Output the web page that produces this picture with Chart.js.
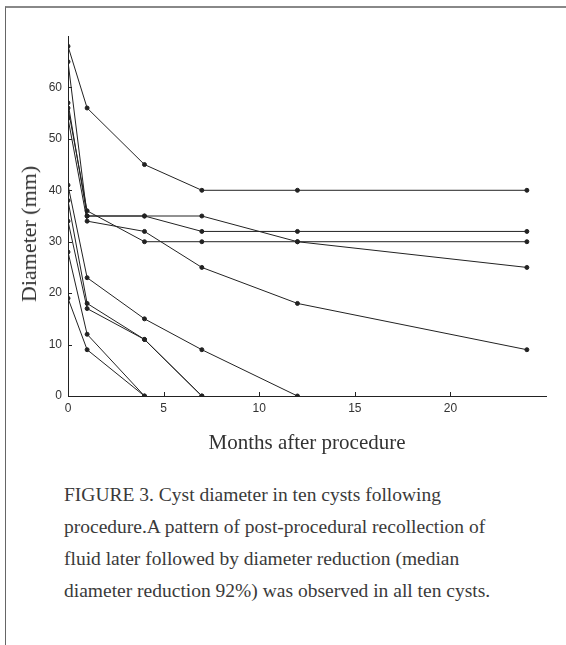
<!DOCTYPE html>
<html lang="en">
<head>
    <meta charset="UTF-8">
    <title>Cyst diameter</title>
    <style>
        body { margin: 0; background: #fff; }
        #frame {
            position: absolute; left: 5px; top: 6px; width: 561px; height: 639px;
            border-top: 2px solid #888; border-left: 1px solid #666;
        }
        #wrap { position: absolute; left: 0; top: 0; width: 566px; height: 460px; }
        #ytitle {
            position: absolute; left: 29px; top: 234px; white-space: nowrap;
            transform: translate(-50%, -50%) rotate(-90deg);
            font-family: "Liberation Serif", serif; font-size: 22px; color: #333;
        }
        #caption {
            position: absolute; left: 64px; top: 479px; white-space: nowrap;
            font-family: "Liberation Serif", serif; font-size: 19.5px; line-height: 32px;
            color: #3a3a3a;
        }
    </style>
</head>
<body>
<div id="frame"></div>
<div id="wrap">
    <canvas id="myChart"></canvas>
</div>
<div id="ytitle">Diameter (mm)</div>
<div id="caption">FIGURE 3. Cyst diameter in ten cysts following<br>procedure.A pattern of post-procedural recollection of<br>fluid later followed by diameter reduction (median<br>diameter reduction 92%) was observed in all ten cysts.</div>

<script src="https://cdn.jsdelivr.net/npm/chart.js"></script>

<script>
    // months after procedure for each measurement
    const months = [0, 1, 4, 7, 12, 24];

    // diameter (mm) of each cyst at those months
    const cyst1 = [68, 56, 45, 40, 40, 40];
    const cyst2 = [65, 35, 35, 35, 30, 25];
    const cyst3 = [57, 35, 35, 32, 32, 32];
    const cyst4 = [54, 34, 32, 25, 18, 9];
    const cyst5 = [56, 36, 30, 30, 30, 30];
    const cyst6 = [41, 23, 15, 9, 0];
    const cyst7 = [38, 18, 11, 0];
    const cyst8 = [34, 17, 11, 0];
    const cyst9 = [28, 12, 0];
    const cyst10 = [19, 9, 0];

    const yTicks = [0, 10, 20, 30, 40, 50, 60];
    const xTicks = [0, 5, 10, 15, 20];

    const allCysts = [cyst1, cyst2, cyst3, cyst4, cyst5, cyst6, cyst7, cyst8, cyst9, cyst10];

    const datasets = allCysts.map(function (values, i) {
        return {
            label: 'Cyst ' + (i + 1),
            data: values.map(function (v, j) { return {x: months[j], y: v}; }),
            borderColor: '#222',
            backgroundColor: '#222',
            borderWidth: 1,
            pointRadius: 2,
            pointHoverRadius: 2,
            tension: 0
        };
    });

    // small tick marks pointing into the plot, like the original figure
    const innerTicks = {
        id: 'innerTicks',
        afterDraw: function (chart) {
            const c = chart.ctx;
            const xs = chart.scales.x;
            const ys = chart.scales.y;
            c.save();
            c.strokeStyle = '#222';
            c.lineWidth = 1;
            c.beginPath();
            xTicks.forEach(function (t) {
                const px = Math.round(xs.getPixelForValue(t)) + 0.5;
                c.moveTo(px, ys.bottom);
                c.lineTo(px, ys.bottom - 4);
            });
            yTicks.forEach(function (t) {
                const py = Math.round(ys.getPixelForValue(t)) + 0.5;
                c.moveTo(xs.left, py);
                c.lineTo(xs.left + 4, py);
            });
            c.stroke();
            c.restore();
        }
    };

    const ctx = document.getElementById('myChart');

    new Chart(ctx, {
        type: 'line',
        data: {datasets: datasets},
        plugins: [innerTicks],
        options: {
            responsive: true,
            maintainAspectRatio: false,
            animation: false,
            layout: {padding: {top: 36, right: 20, left: 0, bottom: 0}},
            plugins: {
                legend: {display: false},
                tooltip: {enabled: false}
            },
            scales: {
                x: {
                    type: 'linear',
                    min: 0,
                    max: 25,
                    afterBuildTicks: function (s) {
                        s.ticks = xTicks.map(function (v) { return {value: v}; });
                    },
                    afterFit: function (s) { s.height = 64; },
                    grid: {display: false, drawTicks: false},
                    border: {display: true, color: '#222', width: 1},
                    ticks: {
                        color: '#333', padding: 5,
                        font: {family: 'Liberation Sans', size: 12}
                    },
                    title: {
                        display: true, text: 'Months after procedure', color: '#333',
                        font: {family: 'Liberation Serif', size: 21}, padding: {top: 0}
                    }
                },
                y: {
                    min: 0,
                    max: 70,
                    afterBuildTicks: function (s) {
                        s.ticks = yTicks.map(function (v) { return {value: v}; });
                    },
                    afterFit: function (s) { s.width = 68; },
                    grid: {display: false, drawTicks: false},
                    border: {display: true, color: '#222', width: 1},
                    ticks: {
                        color: '#333', padding: 6,
                        font: {family: 'Liberation Sans', size: 12}
                    }
                }
            }
        }
    });
</script>

</body>
</html>
